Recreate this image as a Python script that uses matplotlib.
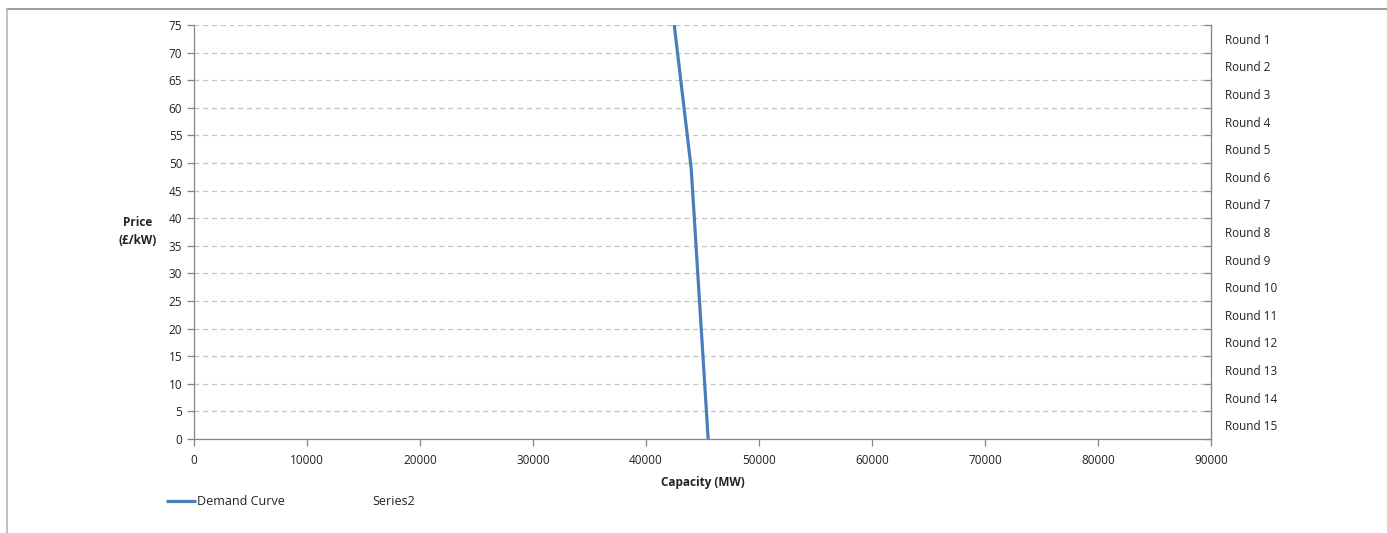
import matplotlib
matplotlib.use("Agg")
import matplotlib.pyplot as plt
from matplotlib.lines import Line2D

plt.rcParams['font.family'] = ['Open Sans', 'DejaVu Sans']

# demand curve
capacity = [42500, 44000, 45500]
price = [75, 49, 0]
rounds = ["Round %d" % i for i in range(1, 16)]
price_ticks = list(range(0, 80, 5))
cap_ticks = list(range(0, 100000, 10000))

axis_grey = '#868686'
txt = '#222222'

fig = plt.figure(figsize=(13.87, 5.33), dpi=100)
ax = fig.add_axes([194 / 1387, 1 - 439 / 533, 1017 / 1387, 414 / 533])

line, = ax.plot(capacity, price, color='#4a7ebb', lw=2.3, solid_capstyle='butt',
                label='Demand Curve')
series2 = Line2D([], [], color='none', label='Series2')

ax.set_xlim(0, 90000)
ax.set_ylim(0, 75)
ax.set_xticks(cap_ticks)
ax.set_yticks(price_ticks)
ax.yaxis.grid(True, ls=(0, (4, 3)), color='#c4c4c4', lw=0.9)
ax.set_axisbelow(True)
ax.tick_params(axis='both', colors=axis_grey, labelcolor=txt, labelsize=8.5,
               length=5, width=0.9, direction='out')
ax.tick_params(axis='x', pad=6)
for s in ['left', 'bottom', 'right']:
    ax.spines[s].set_color(axis_grey)
    ax.spines[s].set_linewidth(0.9)
ax.spines['top'].set_visible(False)

ax.set_xlabel('Capacity (MW)', fontsize=8.5, fontweight='bold', color=txt, labelpad=6)
ax.set_ylabel('Price\n(£/kW)', fontsize=8.5, fontweight='bold', color=txt,
              rotation=0, ha='center', va='center', labelpad=22, linespacing=1.5)

# right side: round labels sit between the price ticks
ax2 = ax.twinx()
ax2.set_ylim(0, 75)
ax2.set_yticks(price_ticks)
ax2.set_yticklabels([])
ax2.set_yticks([p + 2.5 for p in price_ticks[:-1]], minor=True)
ax2.set_yticklabels(rounds[::-1], minor=True)
ax2.tick_params(axis='y', which='major', colors=axis_grey, length=5, width=0.9, direction='in')
ax2.tick_params(axis='y', which='minor', length=0, pad=10, labelsize=8.5, labelcolor=txt)
for s in ['left', 'bottom', 'top']:
    ax2.spines[s].set_visible(False)
ax2.spines['right'].set_color(axis_grey)

ax.legend(handles=[line, series2], ncol=2, loc='upper left', frameon=False,
          bbox_to_anchor=(-0.039, -0.108), fontsize=9, handlelength=2.4,
          handletextpad=0.15, columnspacing=4.4, labelcolor=txt)

# outer chart frame (top and left edges visible)
fig.add_artist(Line2D([0.005, 1.0], [1 - 9 / 533, 1 - 9 / 533], color='#8c8c8c', lw=1.2))
fig.add_artist(Line2D([7 / 1387, 7 / 1387], [0, 1 - 9 / 533], color='#b4b4b4', lw=1.2))

fig.savefig('out.png', dpi=100)
